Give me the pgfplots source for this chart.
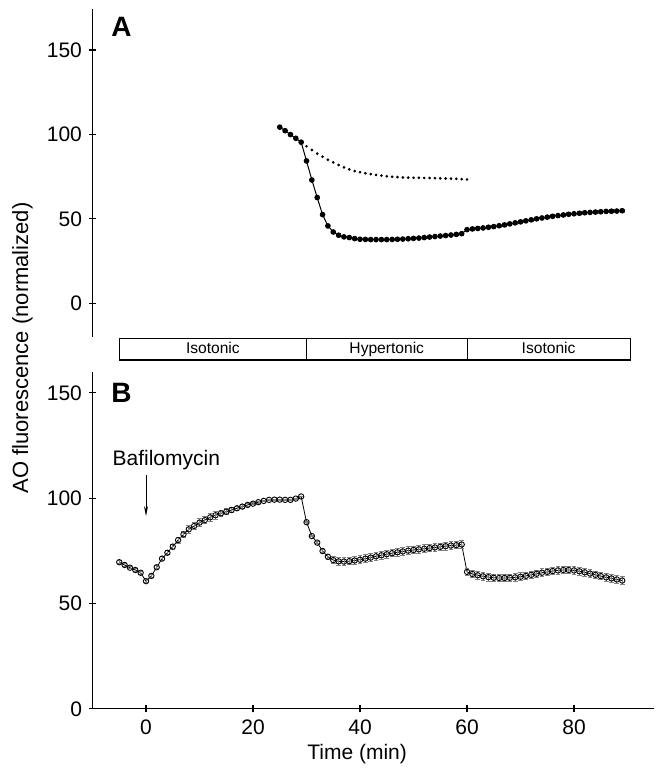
\documentclass[border=0pt]{standalone}
\usepackage{fontspec}
\setmainfont{Liberation Sans}
\usepackage{pgfplots}
\usepackage{pgfplotstable}
\usetikzlibrary{arrows.meta}
\pgfplotsset{compat=1.18}

\pgfplotstableread{
x y e
25 104.3 0
26 102.2 0
27 99.9 0
28 97.7 0
29 95.4 0
30 84.3 0
31 73.0 0
32 62.6 0
33 52.5 0
34 45.8 0
35 42.2 0
36 40.3 0
37 39.3 0
38 38.9 0
39 38.3 0
40 37.9 0.5
41 37.8 0.5
42 37.7 0.5
43 37.7 0.5
44 37.7 0.5
45 37.7 0.5
46 37.8 0.5
47 37.9 0.5
48 38.0 0.5
49 38.2 0.5
50 38.4 0.5
51 38.6 0.5
52 38.9 0.5
53 39.2 0.5
54 39.5 0.5
55 39.8 0.5
56 40.1 0.5
57 40.4 0.5
58 40.8 0.5
59 41.2 0.5
60 43.6 0.8
61 44.0 0.8
62 44.3 0.8
63 44.6 0.8
64 45.0 0.8
65 45.4 0.8
66 45.9 0.8
67 46.4 0.8
68 47.0 0.8
69 47.6 0.8
70 48.2 0.8
71 48.8 0.8
72 49.4 0.8
73 50.0 0.8
74 50.5 0.8
75 51.0 0.8
76 51.5 0.8
77 51.9 0.8
78 52.3 0.8
79 52.7 0.8
80 53.0 0.8
81 53.3 0.8
82 53.6 0.8
83 53.8 0.8
84 54.0 0.8
85 54.2 0.8
86 54.4 0.8
87 54.5 0.8
88 54.6 0.8
89 54.8 0.8
}\dataA

\pgfplotstableread{
x y
30 93.0
31 90.8
32 88.6
33 86.8
34 85.0
35 83.4
36 81.9
37 80.5
38 79.3
39 78.3
40 77.6
41 77.0
42 76.5
43 76.0
44 75.6
45 75.2
46 74.9
47 74.7
48 74.5
49 74.4
50 74.3
51 74.3
52 74.2
53 74.2
54 74.1
55 74.0
56 73.9
57 73.8
58 73.7
59 73.5
60 73.3
}\dataActrl

\pgfplotstableread{
x y e
-5 69.6 0.8
-4 68.3 0.6
-3 67.0 0.6
-2 65.9 0.6
-1 64.6 0.6
0 60.6 0.8
1 63.1 0.8
2 67.2 0.8
3 71.3 0.8
4 74.1 1.0
5 77.0 1.2
6 80.1 1.4
7 82.8 1.6
8 85.2 1.8
9 86.8 1.8
10 88.4 1.8
11 89.6 1.8
12 90.9 1.8
13 91.9 1.8
14 92.8 1.6
15 93.6 1.5
16 94.4 1.3
17 95.2 1.1
18 96.0 0.9
19 96.8 0.7
20 97.4 0.5
21 98.1 0.4
22 98.7 0.3
23 99.2 0.2
24 99.3 0.2
25 99.3 0.2
26 99.2 0.2
27 99.2 0.2
28 99.8 0.2
29 100.8 0.2
30 88.6 0.3
31 82.0 0.4
32 78.9 0.6
33 74.9 0.9
34 72.2 1.2
35 70.6 1.7
36 70.0 1.8
37 69.9 1.8
38 70.1 1.8
39 70.4 1.8
40 70.8 1.8
41 71.3 1.8
42 71.8 1.8
43 72.4 1.8
44 72.9 1.8
45 73.4 1.8
46 73.9 1.8
47 74.3 1.8
48 74.7 1.8
49 75.1 1.8
50 75.4 1.8
51 75.7 1.8
52 76.0 1.8
53 76.3 1.8
54 76.6 1.8
55 76.9 1.8
56 77.2 1.8
57 77.5 1.8
58 77.7 1.8
59 78.0 1.8
60 65.0 1.8
61 64.0 1.8
62 63.4 1.8
63 62.9 1.8
64 62.5 1.8
65 62.2 1.8
66 62.1 1.8
67 62.1 1.8
68 62.2 1.8
69 62.4 1.8
70 62.7 1.8
71 63.1 1.8
72 63.6 1.8
73 64.1 1.8
74 64.6 1.8
75 65.0 1.8
76 65.4 1.8
77 65.7 1.8
78 65.9 1.8
79 65.9 1.8
80 65.7 1.8
81 65.3 1.8
82 64.8 1.8
83 64.2 1.8
84 63.6 1.8
85 63.0 1.8
86 62.4 1.8
87 61.9 1.8
88 61.4 1.8
89 60.9 1.8
}\dataB

\pgfplotsset{
  myaxis/.style={
    scale only axis,
    anchor=south west,
    width=280.9pt,
    xmin=-10, xmax=95,
    tick align=outside,
    major tick length=3.5pt,
    tick style={black, line width=0.6pt},
    /pgf/number format/assume math mode=true,
    ticklabel style={font=\fontsize{10.5}{12}\selectfont},
    ytick={0,50,100,150},
    clip=false,
  },
  noarrows/.style={
    axis line style={black, line width=0.6pt, -},
    x axis line style={-},
    y axis line style={-},
    every outer x axis line/.append style={-},
    every outer y axis line/.append style={-},
  },
  errstyle/.style={
    error bars/.cd, y dir=both, y explicit,
    error bar style={gray, line width=0.45pt},
    error mark options={rotate=90, mark size=1.2pt, gray, line width=0.45pt},
  },
}
\tikzset{barlabel/.style={font=\fontsize{7.8}{9}\selectfont, anchor=base, inner sep=0pt}}

\begin{document}
\begin{tikzpicture}
\useasboundingbox (0,0) rectangle (327.5pt,386pt);

% Panel A
\begin{axis}[myaxis,
  at={(46.25pt,217.5pt)},
  height=163.75pt,
  ymin=-20, ymax=174,
  axis y line=left, axis x line=none,
  noarrows,
]
\addplot[black, line width=0.5pt, mark=*, mark size=1.15pt,
  mark options={solid, fill=black}, errstyle]
  table[x=x, y=y, y error=e] {\dataA};
\addplot[only marks, mark=*, mark size=0.45pt, black] table[x=x, y=y] {\dataActrl};
\node[font=\fontsize{14}{16}\selectfont\bfseries, anchor=center] at (axis cs:-4.6,164) {A};
\end{axis}

% Panel B
\begin{axis}[myaxis,
  at={(46.25pt,31.6pt)},
  height=168.5pt,
  ymin=0, ymax=160,
  axis lines=left,
  noarrows,
  xtick={0,20,40,60,80},
  xlabel={Time (min)},
  xlabel style={font=\fontsize{10.5}{12}\selectfont, at={(ticklabel cs:0.471)}, anchor=north, yshift=2pt},
]
\addplot[black, line width=0.4pt, mark=o, mark size=1.35pt,
  mark options={solid, fill=white, line width=0.45pt}, errstyle]
  table[x=x, y=y, y error=e] {\dataB};
\node[font=\fontsize{14}{16}\selectfont\bfseries, anchor=center] at (axis cs:-4.6,150) {B};
\node[font=\fontsize{10.5}{12}\selectfont, anchor=center] at (axis cs:3.8,118.1) {Bafilomycin};
\draw[-{Stealth[length=5pt,width=2pt]}, line width=0.5pt] (axis cs:0,111) -- (axis cs:0,91.5);
% treatment bar
\draw[line width=0.6pt] (axis cs:-5,165.6) rectangle (axis cs:90.5,175.8);
\draw[line width=0.4pt] (axis cs:30,165.6) -- (axis cs:30,175.8);
\draw[line width=0.4pt] (axis cs:60,165.6) -- (axis cs:60,175.8);
\node[barlabel] at (axis cs:12.5,168.8) {Isotonic};
\node[barlabel] at (axis cs:45,168.8) {Hypertonic};
\node[barlabel] at (axis cs:75.25,168.8) {Isotonic};
\end{axis}

\node[rotate=90, font=\fontsize{11}{13}\selectfont] at (11.25pt,212pt) {AO fluorescence (normalized)};
\end{tikzpicture}
\end{document}
